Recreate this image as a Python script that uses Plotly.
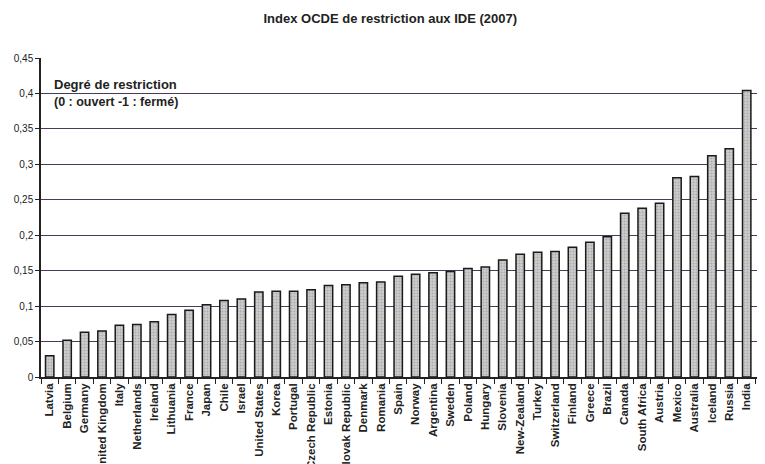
import plotly.graph_objects as go

countries = ["Latvia", "Belgium", "Germany", "United Kingdom", "Italy", "Netherlands", "Ireland",
             "Lithuania", "France", "Japan", "Chile", "Israel", "United States", "Korea", "Portugal",
             "Czech Republic", "Estonia", "Slovak Republic", "Denmark", "Romania", "Spain", "Norway",
             "Argentina", "Sweden", "Poland", "Hungary", "Slovenia", "New-Zealand", "Turkey",
             "Switzerland", "Finland", "Greece", "Brazil", "Canada", "South Africa", "Austria",
             "Mexico", "Australia", "Iceland", "Russia", "India", "China"]
values = [0.030, 0.052, 0.063, 0.065, 0.073, 0.074, 0.078, 0.088, 0.094, 0.102, 0.108, 0.110,
          0.120, 0.121, 0.121, 0.123, 0.129, 0.130, 0.133, 0.134, 0.142, 0.145, 0.147, 0.149,
          0.153, 0.155, 0.165, 0.173, 0.176, 0.177, 0.183, 0.190, 0.198, 0.231, 0.238, 0.245,
          0.281, 0.283, 0.312, 0.322, 0.404, 0.408]
ytick_vals = [0, 0.05, 0.1, 0.15, 0.2, 0.25, 0.3, 0.35, 0.4, 0.45]
ytick_text = ["0", "0,05", "0,1", "0,15", "0,2", "0,25", "0,3", "0,35", "0,4", "0,45"]

fig = go.Figure(go.Bar(
    x=countries, y=values,
    marker=dict(color="#b4b4b4", line=dict(color="#1a1a1a", width=1.5),
                pattern=dict(shape=".", fgcolor="#8a8a8a", bgcolor="#cfcfcf", size=3, solidity=0.4)),
    width=0.48,
))

fig.update_layout(
    width=757, height=456,
    margin=dict(l=33, r=0, t=50, b=87, autoexpand=False),
    paper_bgcolor="white", plot_bgcolor="white",
    showlegend=False,
    font=dict(family="Liberation Sans, Arial", color="#222222"),
    title=dict(text="<b>Index OCDE de restriction aux IDE (2007)</b>", x=0.505, xanchor="center",
               y=0.978, yanchor="middle", font=dict(size=13, color="#222222")),
    xaxis=dict(range=[-0.5, 41.05], tickangle=-90, tickfont=dict(size=11.5), automargin=False,
               showline=True, linecolor="#222222", linewidth=1.5,
               ticks="outside", ticklen=5, tickcolor="#222222", tickson="boundaries",
               showgrid=False, fixedrange=True),
    yaxis=dict(range=[0, 0.45], tickvals=ytick_vals, ticktext=ytick_text, tickfont=dict(size=10),
               automargin=False,
               showline=True, linecolor="#222222", linewidth=1.5,
               ticks="outside", ticklen=4, tickcolor="#222222",
               showgrid=True, gridcolor="#4a3a5e", gridwidth=1.3, zeroline=False),
    annotations=[
        dict(text="<b>Degré de restriction</b>", x=0.015, y=0.412, xref="paper", yref="y",
             xanchor="left", yanchor="middle", showarrow=False, font=dict(size=13, color="#222222")),
        dict(text="<b>(0 : ouvert -1 : fermé)</b>", x=0.015, y=0.388, xref="paper", yref="y",
             xanchor="left", yanchor="middle", showarrow=False, font=dict(size=12.5, color="#222222")),
    ],
)
fig.update_xaxes(tickprefix="<b>", ticksuffix="</b>")

fig.write_html("out.html")
